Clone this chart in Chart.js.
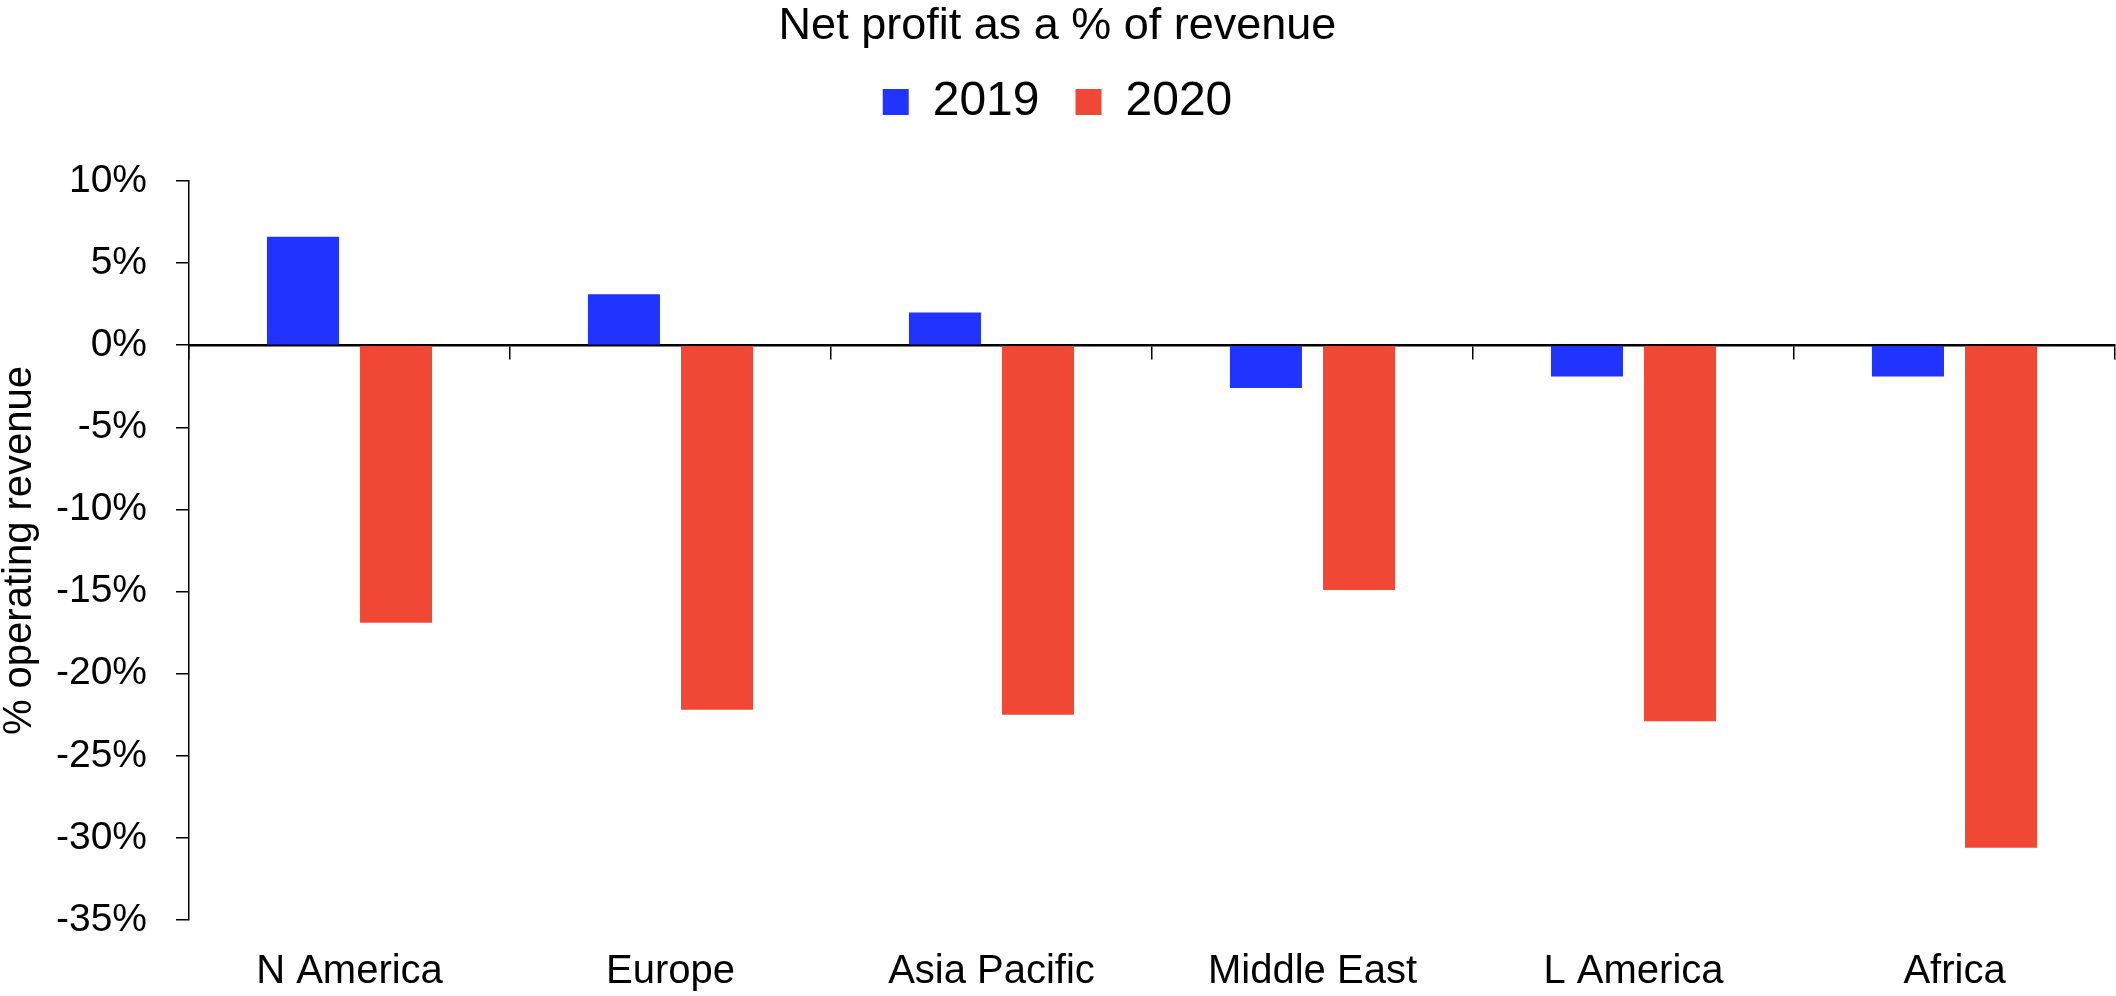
<!DOCTYPE html>
<html>
  <head>
    <meta charset="UTF-8" />
    <title>Net profit as a % of revenue</title>
    <script src="https://cdn.jsdelivr.net/npm/chart.js"></script>
    <style>
      html, body {
        margin: 0;
        padding: 0;
        background: #fff;
      }
      #wrap {
        width: 2116px;
        height: 996px;
      }
    </style>
  </head>
  <body>
    <div id="wrap"><canvas id="profitChart"></canvas></div>

    <script>
      // Regions and values (percent of operating revenue).
      const categories = ["N America", "Europe", "Asia Pacific", "Middle East", "L America", "Africa"];
      const values2019 = [6.6, 3.1, 2.0, -2.6, -1.9, -1.9];
      const values2020 = [-16.9, -22.2, -22.5, -14.9, -22.9, -30.6];
      const seriesNames = ["2019", "2020"];
      const yMin = -35;
      const yMax = 10;
      const yStep = 5;

      const fontFamily = "'Liberation Sans', Arial, sans-serif";

      // Extra room under the legend, before the plot starts.
      const legendGap = {
        id: "legendGap",
        beforeInit(chart) {
          const origFit = chart.legend.fit;
          chart.legend.fit = function() {
            origFit.bind(chart.legend)();
            this.height += 45;
          };
        }
      };

      const ctx = document.getElementById("profitChart").getContext("2d");
      new Chart(ctx, {
        type: "bar",
        data: {
          labels: categories,
          datasets: [
            {
              label: seriesNames[0],
              data: values2019,
              backgroundColor: "#2133ff",
              borderWidth: 0
            },
            {
              label: seriesNames[1],
              data: values2020,
              backgroundColor: "#f14835",
              borderWidth: 0
            }
          ]
        },
        plugins: [legendGap],
        options: {
          responsive: true,
          maintainAspectRatio: false,
          animation: false,
          layout: {
            padding: { left: 0, right: 1, top: 0, bottom: 0 }
          },
          datasets: {
            bar: {
              categoryPercentage: 0.58,
              barPercentage: 0.774
            }
          },
          plugins: {
            title: {
              display: true,
              text: "Net profit as a % of revenue",
              color: "#000",
              font: { family: fontFamily, size: 45, weight: "normal" },
              padding: { top: 0, bottom: -12 }
            },
            legend: {
              position: "top",
              labels: {
                color: "#000",
                font: { family: fontFamily, size: 48 },
                boxWidth: 26,
                boxHeight: 26,
                padding: 36
              }
            },
            tooltip: { enabled: false }
          },
          scales: {
            // axis drawn through zero, only the line and the category ticks
            x: {
              type: "category",
              position: { y: 0 },
              afterFit: function(scale) {
                scale.height = 0;
              },
              grid: {
                display: true,
                drawOnChartArea: false,
                drawTicks: true,
                tickLength: 13,
                color: "#000",
                lineWidth: 1.5,
                offset: true
              },
              border: { display: true, color: "#000", width: 2.5 },
              ticks: { display: false }
            },
            // category names along the bottom
            xl: {
              type: "category",
              labels: categories,
              position: "bottom",
              afterFit: function(scale) {
                scale.height = 76;
              },
              grid: { display: false, drawTicks: false },
              border: { display: false },
              ticks: {
                color: "#000",
                font: { family: fontFamily, size: 40 },
                padding: 28,
                maxRotation: 0,
                autoSkip: false
              }
            },
            y: {
              min: yMin,
              max: yMax,
              afterFit: function(scale) {
                scale.width = 189;
              },
              ticks: {
                stepSize: yStep,
                color: "#000",
                padding: 29,
                font: { family: fontFamily, size: 39 },
                callback: function(value) {
                  return value + "%";
                }
              },
              grid: {
                drawOnChartArea: false,
                drawTicks: true,
                tickLength: 13,
                color: "#000",
                lineWidth: 1.5
              },
              border: { display: true, color: "#000", width: 1.5 },
              title: {
                display: true,
                text: "% operating revenue",
                color: "#000",
                font: { family: fontFamily, size: 40, lineHeight: 1.0 },
                padding: 0
              }
            }
          }
        }
      });
    </script>
  </body>
</html>
